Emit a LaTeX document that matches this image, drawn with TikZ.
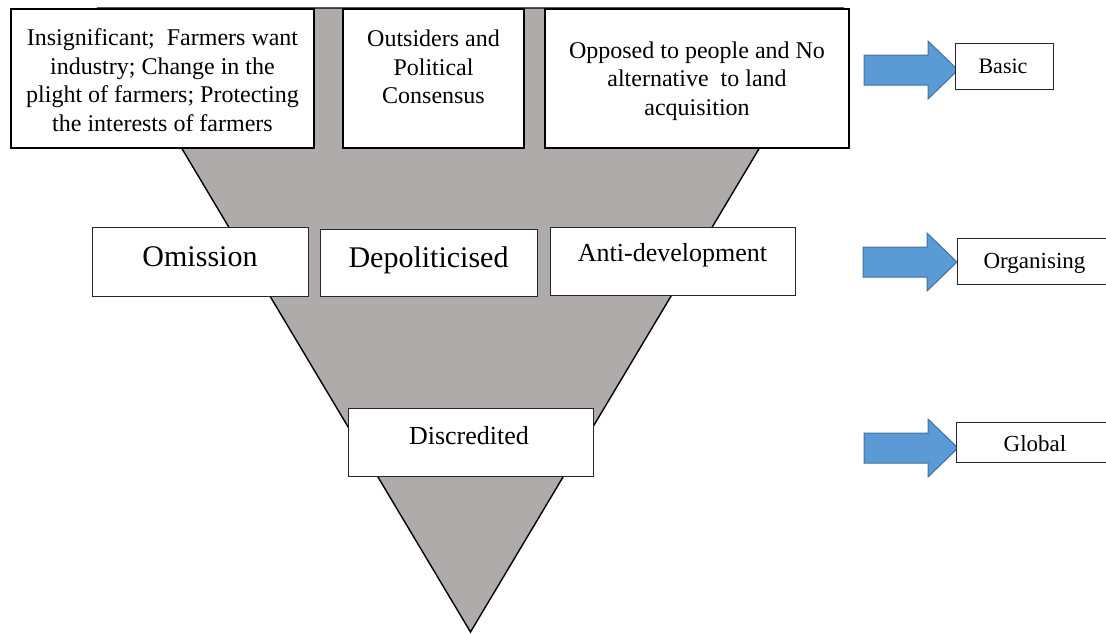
\documentclass[tikz,border=0pt]{standalone}
\usepackage{fontspec}
\setmainfont{Liberation Serif}
\newfontfamily\boxserif{Liberation Serif}
\usetikzlibrary{calc}
\definecolor{funnelgray}{HTML}{AFABAB}
\definecolor{arrowblue}{HTML}{5B9BD5}
\definecolor{arrowedge}{HTML}{41719C}

% block arrow whose tip sits on the given coordinate
\newcommand\drawblockarrow[1]{%
  \draw[blockarrow] ($(#1)+(-94,-15)$) -- ($(#1)+(-30,-15)$) -- ($(#1)+(-30,-29)$)
    -- (#1) -- ($(#1)+(-30,29)$) -- ($(#1)+(-30,15)$) -- ($(#1)+(-94,15)$) -- cycle;}

\begin{document}
\begin{tikzpicture}[x=1pt,y=-1pt,
  topbox/.style={draw=black, line width=1.6pt, fill=white, inner sep=0pt},
  midbox/.style={draw=black!85, line width=1pt, fill=white, inner sep=0pt},
  sidebox/.style={draw=black!85, line width=0.9pt, fill=white, inner sep=0pt},
  txt/.style={align=center, inner sep=0pt},
  blockarrow/.style={fill=arrowblue, draw=arrowedge, line width=1pt, line join=miter}]
\useasboundingbox (0,0) rectangle (1106,633);

% funnel
\coordinate (fl) at (98,8);
\coordinate (fr) at (843,8);
\coordinate (apex) at (470.5,632);
\draw[fill=funnelgray, line width=1.4pt] (fl) -- (fr) -- (apex) -- cycle;

% top row
\node[topbox, minimum width=303pt, minimum height=139pt] (boxA) at (162.5,78.5) {};
\node[txt, font=\boxserif\fontsize{24}{28.5}\selectfont] (textA) at (162.5,80)
  {Insignificant;\ \ Farmers want\\industry; Change in the\\plight of farmers; Protecting\\the interests of farmers};
\node[topbox, minimum width=181pt, minimum height=139pt] (boxB) at (433.5,78.5) {};
\node[txt, font=\boxserif\fontsize{24}{28.5}\selectfont] (textB) at (433.5,67)
  {Outsiders and\\Political\\Consensus};
\node[topbox, minimum width=304pt, minimum height=139pt] (boxC) at (697,78.5) {};
\node[txt, font=\boxserif\fontsize{24}{28.5}\selectfont] (textC) at (697,81)
  {Opposed to people and No\\alternative\ \ to land\\acquisition};

% middle row
\node[midbox, minimum width=216pt, minimum height=69pt] (omission) at (200,261.5) {};
\node[txt, font=\boxserif\fontsize{30}{34}\selectfont, anchor=base] (omissionT) at (200,266) {Omission};
\node[midbox, minimum width=217pt, minimum height=67pt] (depol) at (428.5,262.5) {};
\node[txt, font=\boxserif\fontsize{30}{34}\selectfont, anchor=base] (depolT) at (428.5,267) {Depoliticised};
\node[midbox, minimum width=245pt, minimum height=68pt] (antidev) at (672.5,261) {};
\node[txt, font=\boxserif\fontsize{26}{30}\selectfont, anchor=base] (antidevT) at (672.5,261) {Anti-development};

% bottom
\node[midbox, minimum width=245pt, minimum height=68pt] (discr) at (470.5,442) {};
\node[txt, font=\boxserif\fontsize{26}{30}\selectfont, anchor=base] (discrT) at (469,444) {Discredited};

% levels on the right
\coordinate (tipBasic) at (958,70);
\coordinate (tipOrg) at (957,262);
\coordinate (tipGlob) at (958,448);
\drawblockarrow{tipBasic}
\drawblockarrow{tipOrg}
\drawblockarrow{tipGlob}

\node[sidebox, minimum width=98pt, minimum height=46pt] (basic) at (1004,66) {};
\node[txt, font=\boxserif\fontsize{22}{26}\selectfont, anchor=base] (basicT) at (1003,73) {Basic};
\node[sidebox, minimum width=170pt, minimum height=46pt] (organising) at (1042,261) {};
\node[txt, font=\boxserif\fontsize{23}{27}\selectfont, anchor=base] (organisingT) at (1034.5,268) {Organising};
\node[sidebox, minimum width=170pt, minimum height=40pt] (global) at (1041,442) {};
\node[txt, font=\boxserif\fontsize{23}{27}\selectfont, anchor=base] (globalT) at (1035,451) {Global};
\end{tikzpicture}
\end{document}
